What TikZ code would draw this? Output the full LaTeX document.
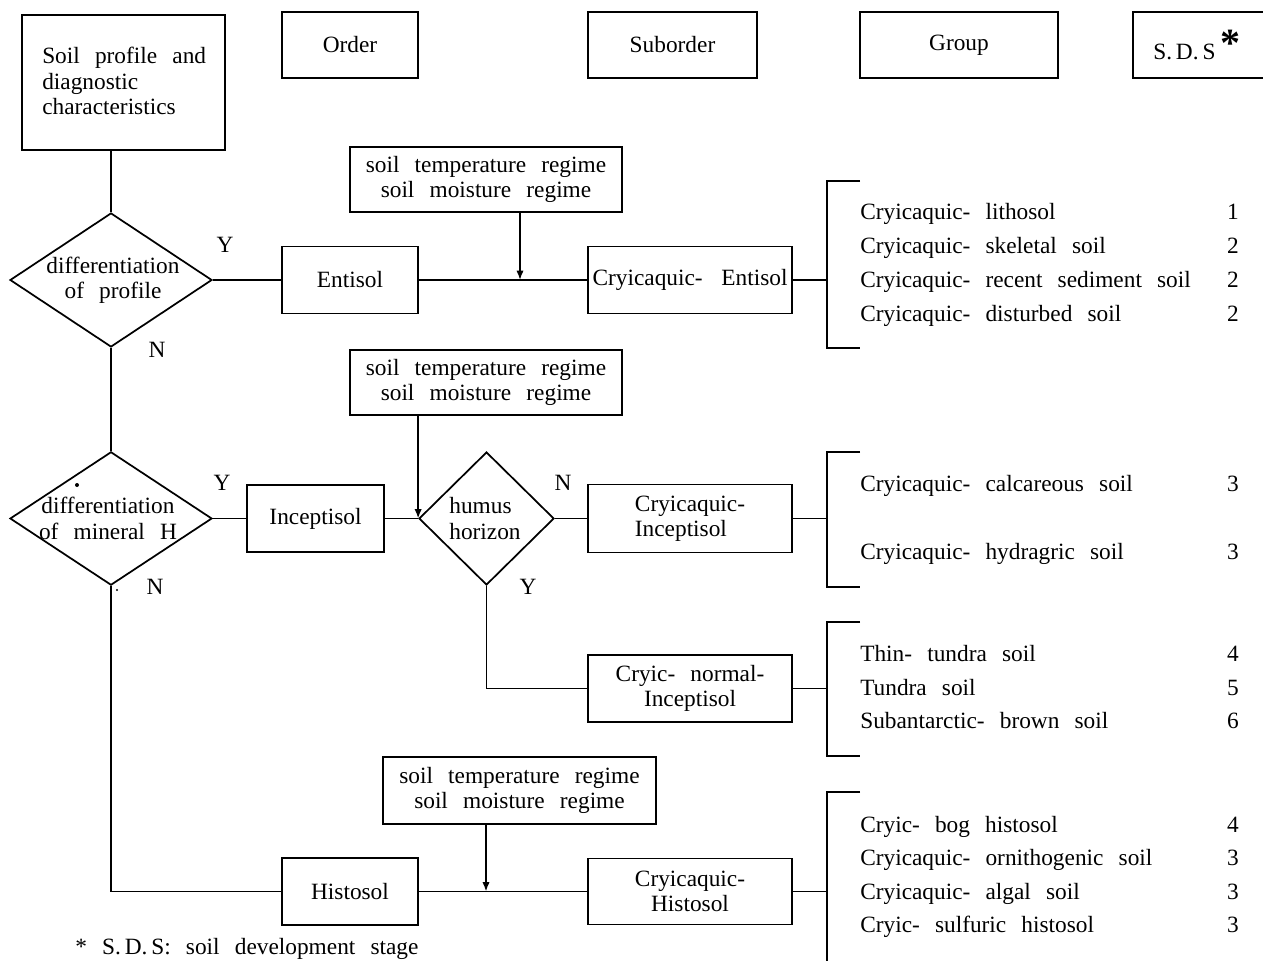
\documentclass[tikz,border=0pt]{standalone}
\usepackage{fontspec}
\setmainfont{Liberation Serif}
\usetikzlibrary{shapes.geometric,arrows.meta}
\newcommand\myfnt{\fontsize{17.5}{19}\selectfont\spaceskip=0.65em plus 0.1em\relax}
\begin{document}
\begin{tikzpicture}[x=0.75pt,y=-0.75pt,
  every node/.style={font=\myfnt},
  box/.style={draw,line width=1.3pt,inner sep=0pt,align=center},
  dia/.style={draw,line width=1.3pt,shape=diamond,inner sep=0pt},
  yn/.style={inner sep=0pt},
  item/.style={anchor=base west,inner sep=0pt},
  num/.style={anchor=base,inner sep=0pt},
  conn/.style={line width=1.3pt},
  arr/.style={line width=1.3pt,-{Latex[length=7pt,width=5.5pt]}}]
\useasboundingbox (0,0) rectangle (1263,960);
\clip (0,0) rectangle (1263,960);

% header row
\node[box,minimum width=152.25pt,minimum height=101.25pt] (soil) at (123.5,82.5) {};
\node[anchor=west,align=left,inner sep=0pt] (soiltxt) at (42,81) {Soil profile and\\diagnostic\\characteristics};
\node[box,minimum width=102pt,minimum height=49.5pt] (order) at (350,45) {Order};
\node[box,minimum width=126.75pt,minimum height=49.5pt] (suborder) at (672.5,45) {Suborder};
\node[box,minimum width=148.5pt,minimum height=49.5pt] (group) at (959,45) {Group};
\node[box,minimum width=117.75pt,minimum height=49.5pt] (sds) at (1211.5,45) {};
\node[anchor=west,inner sep=0pt] (sdstxt) at (1153,45) {S.\,D.\,S\hspace{0.2em}\raisebox{0.15em}{\fontsize{30}{30}\selectfont\textbf{*}}};

% first row: Entisol
\node[dia,minimum width=151.5pt,minimum height=100.5pt] (d1) at (111,280) {};
\node[align=center,inner sep=0pt] (d1txt) at (113,280) {differentiation\\of profile};
\node[yn] (y1) at (225,245) {Y};
\node[yn] (n1) at (157,350) {N};
\node[box,minimum width=102pt,minimum height=50.25pt] (ent) at (350,280) {Entisol};
\node[box,minimum width=204pt,minimum height=48.75pt] (reg1) at (486,179.5) {soil temperature regime\\soil moisture regime};
\node[box,minimum width=153pt,minimum height=50.25pt] (ce) at (690,280) {Cryicaquic-\hspace{0.8em}Entisol};
\coordinate (j1) at (520,280);

% bracket 1
\coordinate (b1t) at (860,181);
\coordinate (b1m) at (827,280);
\coordinate (b1b) at (860,348);
\draw[conn] (b1t) -| (b1m) |- (b1b);
\node[item] (l11) at (860,219) {Cryicaquic- lithosol};
\node[item] (l12) at (860,253) {Cryicaquic- skeletal soil};
\node[item] (l13) at (860,287) {Cryicaquic- recent sediment soil};
\node[item] (l14) at (860,321) {Cryicaquic- disturbed soil};
\node[num] (n11) at (1233,219) {1};
\node[num] (n12) at (1233,253) {2};
\node[num] (n13) at (1233,287) {2};
\node[num] (n14) at (1233,321) {2};

% second row: Inceptisol
\node[dia,minimum width=151.5pt,minimum height=100pt] (d2) at (111,518.5) {};
\node[align=center,inner sep=0pt] (d2txt) at (108,518.5) {differentiation\\of mineral H};
\fill (77,485) circle (1.5pt);
\fill (117,590) circle (0.9pt);
\node[yn] (y2) at (222,483) {Y};
\node[yn] (n2) at (155,587) {N};
\node[box,minimum width=102.75pt,minimum height=50.25pt] (inc) at (315.5,518.5) {Inceptisol};
\node[box,minimum width=204pt,minimum height=48.75pt] (reg2) at (486,382.5) {soil temperature regime\\soil moisture regime};
\node[dia,minimum width=101.25pt,minimum height=99.75pt] (hum) at (486.5,518.5) {};
\node[align=left,inner sep=0pt] (humtxt) at (485,518.5) {humus\\horizon};
\node[yn] (n3) at (563,483) {N};
\node[yn] (y3) at (528,587) {Y};
\node[box,minimum width=153pt,minimum height=51pt,align=left] (ci) at (690,518.5) {Cryicaquic-\\Inceptisol};
\node[box,minimum width=153pt,minimum height=50.25pt] (cn) at (690,688.5) {Cryic- normal-\\Inceptisol};

% bracket 2
\coordinate (b2t) at (860,452);
\coordinate (b2m) at (827,518.5);
\coordinate (b2b) at (860,587);
\draw[conn] (b2t) -| (b2m) |- (b2b);
\node[item] (l21) at (860,491) {Cryicaquic- calcareous soil};
\node[item] (l22) at (860,559) {Cryicaquic- hydragric soil};
\node[num] (n21) at (1233,491) {3};
\node[num] (n22) at (1233,559) {3};

% bracket 3
\coordinate (b3t) at (860,622);
\coordinate (b3m) at (827,688.5);
\coordinate (b3b) at (860,756);
\draw[conn] (b3t) -| (b3m) |- (b3b);
\node[item] (l31) at (860,661) {Thin- tundra soil};
\node[item] (l32) at (860,695) {Tundra soil};
\node[item] (l33) at (860,728) {Subantarctic- brown soil};
\node[num] (n31) at (1233,661) {4};
\node[num] (n32) at (1233,695) {5};
\node[num] (n33) at (1233,728) {6};

% third row: Histosol
\node[box,minimum width=102pt,minimum height=50.25pt] (hist) at (350,891.5) {Histosol};
\node[box,minimum width=204.75pt,minimum height=50.25pt] (reg3) at (519.5,790.5) {soil temperature regime\\soil moisture regime};
\node[box,minimum width=153pt,minimum height=49.5pt] (ch) at (690,891.5) {Cryicaquic-\\Histosol};
\coordinate (j3) at (486,891.5);

% bracket 4
\coordinate (b4t) at (860,792);
\coordinate (b4m) at (827,891.5);
\coordinate (b4b) at (860,992);
\draw[conn] (b4t) -| (b4m) |- (b4b);
\node[item] (l41) at (860,832) {Cryic- bog histosol};
\node[item] (l42) at (860,865) {Cryicaquic- ornithogenic soil};
\node[item] (l43) at (860,899) {Cryicaquic- algal soil};
\node[item] (l44) at (860,932) {Cryic- sulfuric histosol};
\node[num] (n41) at (1233,832) {4};
\node[num] (n42) at (1233,865) {3};
\node[num] (n43) at (1233,899) {3};
\node[num] (n44) at (1233,932) {3};

% footnote
\node[item] (foot) at (75,954) {* S.\,D.\,S: soil development stage};

% connectors
\draw[conn] (soil.south -| d1.north) -- (d1.north);
\draw[conn] (d1.east) -- (ent.west);
\draw[conn] (ent.east) -- (ce.west);
\draw[arr] (reg1.south -| j1) -- (j1);
\draw[conn] (ce.east) -- (b1m);
\draw[conn] (d1.south) -- (d2.north);
\draw[conn] (d2.east) -- (inc.west);
\draw[conn] (inc.east) -- (hum.west);
\draw[arr] (reg2.south -| hum.west) -- (hum.west);
\draw[conn] (hum.east) -- (ci.west);
\draw[conn] (ci.east) -- (b2m);
\draw[conn] (hum.south) |- (cn.west);
\draw[conn] (cn.east) -- (b3m);
\draw[conn] (d2.south) |- (hist.west);
\draw[conn] (hist.east) -- (ch.west);
\draw[arr] (reg3.south -| j3) -- (j3);
\draw[conn] (ch.east) -- (b4m);
\end{tikzpicture}
\end{document}
